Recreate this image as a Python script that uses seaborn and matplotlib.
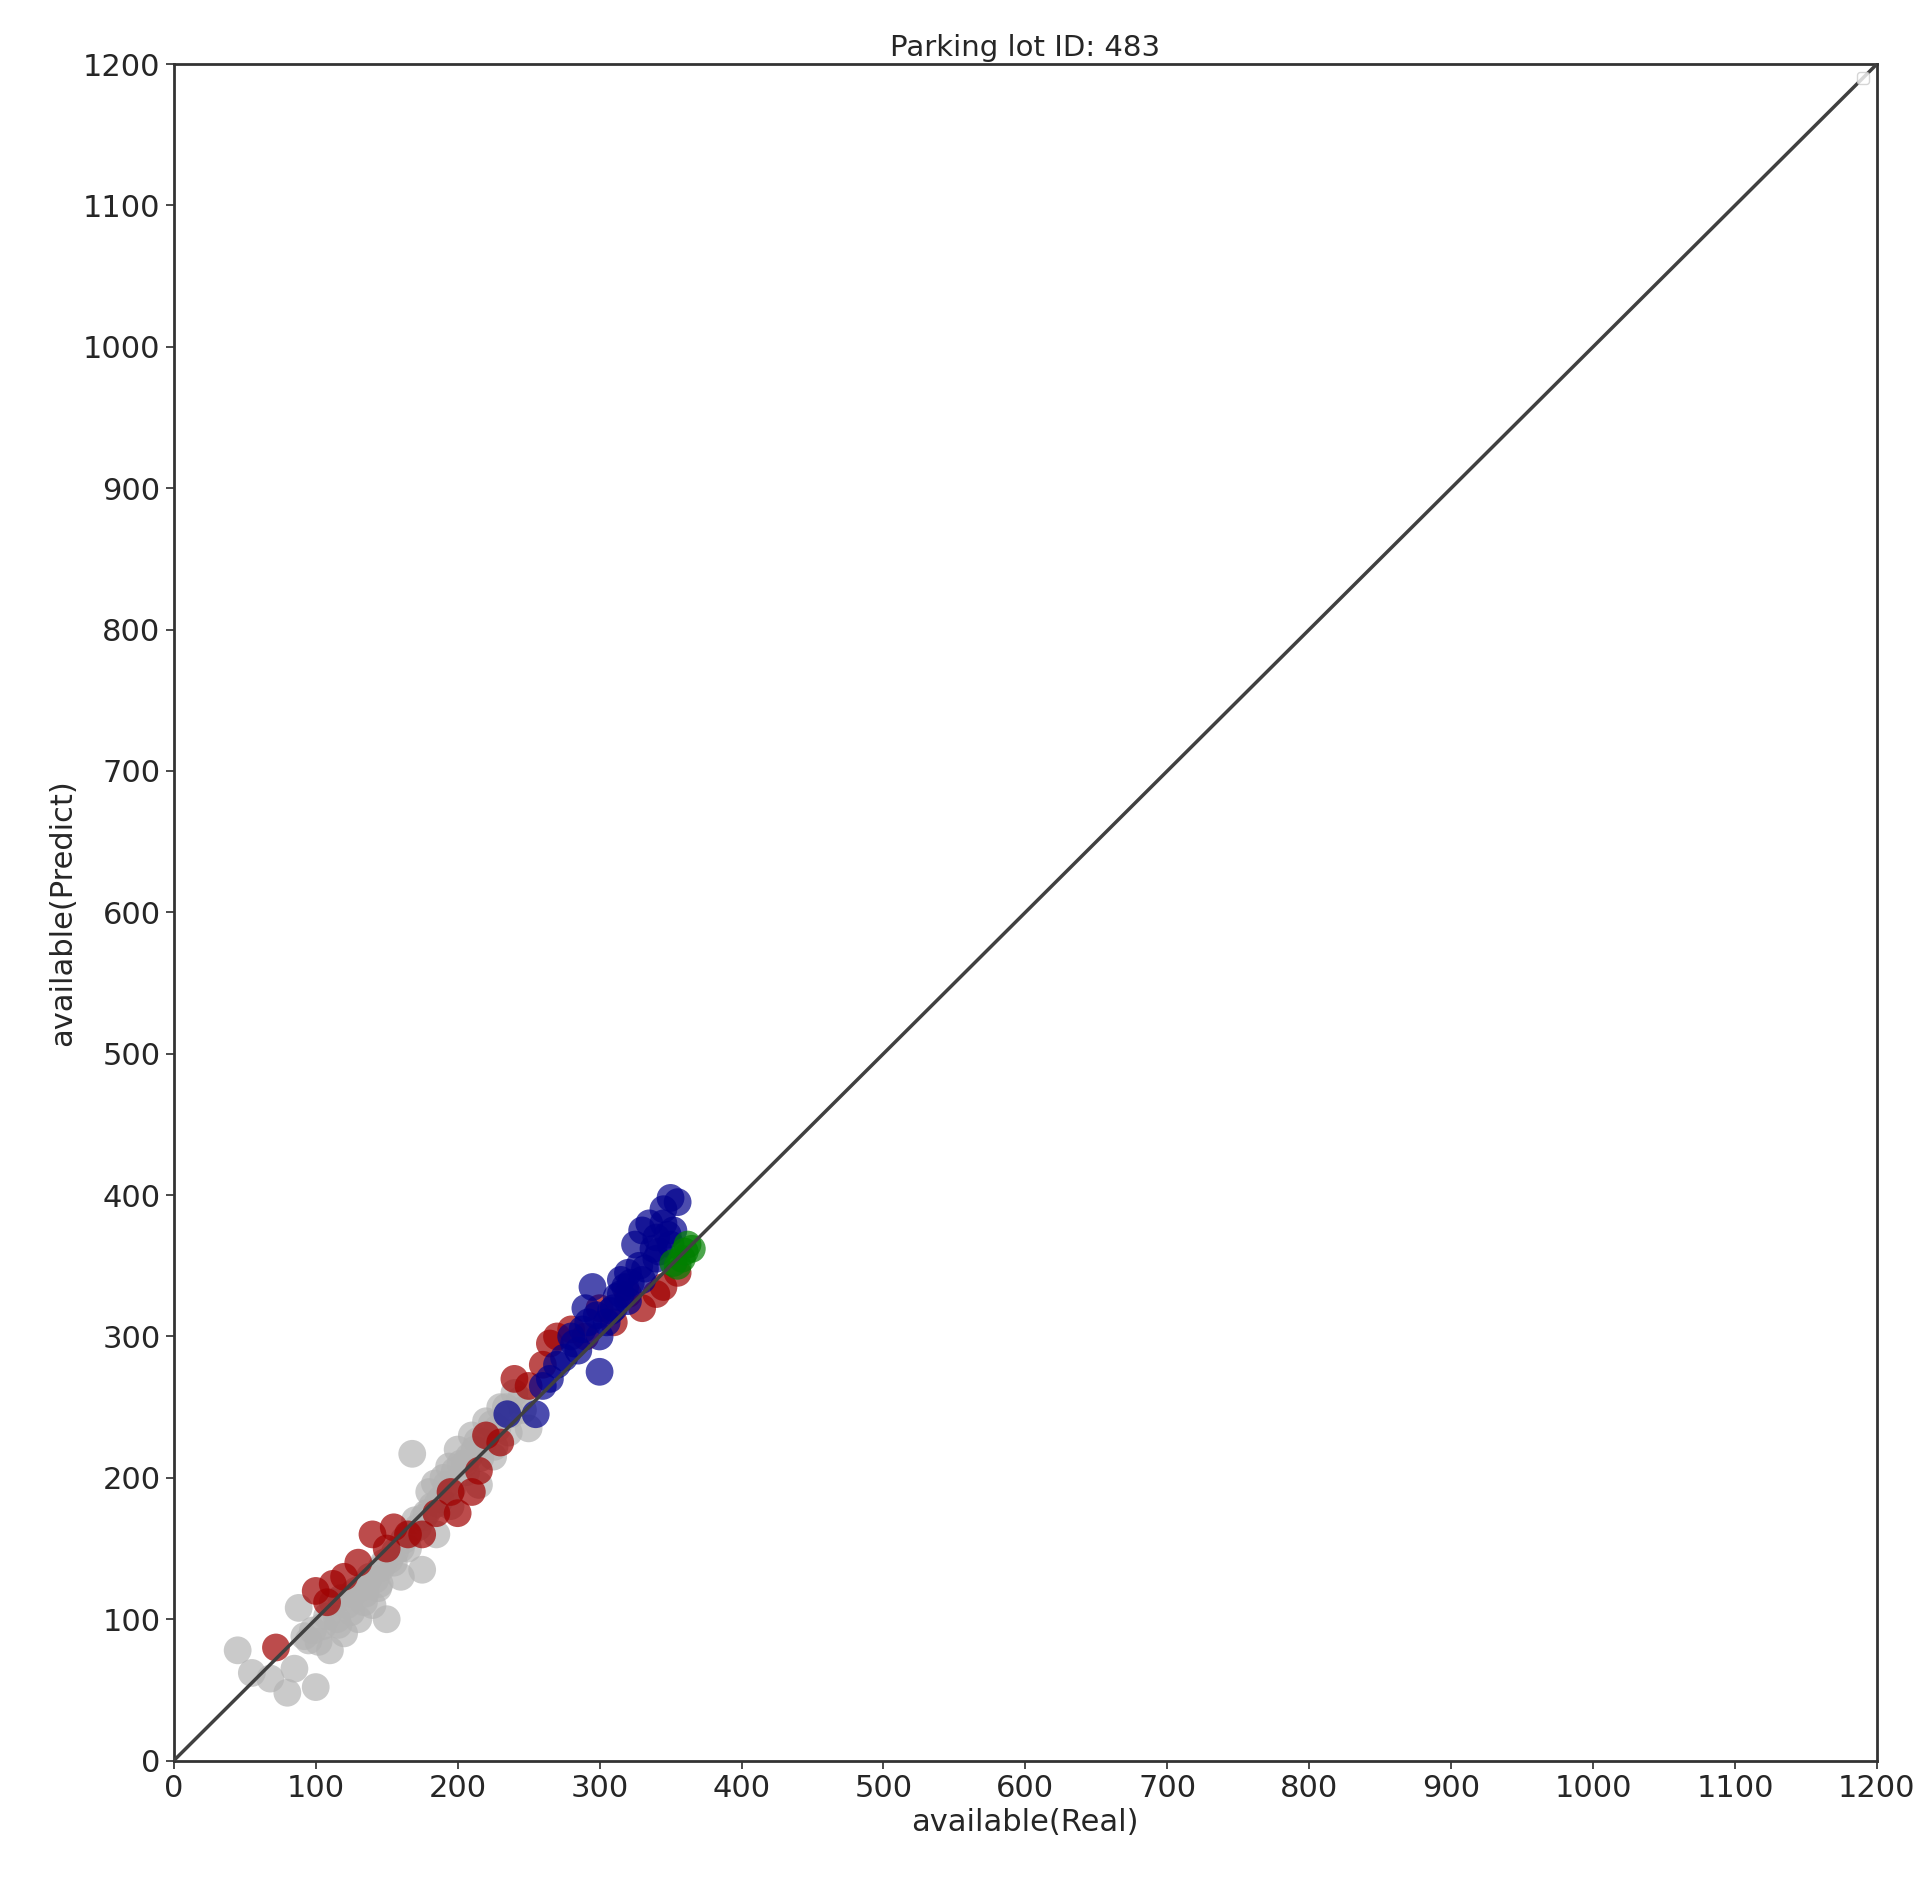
import matplotlib
matplotlib.use("Agg")
import matplotlib.pyplot as plt
import seaborn as sns

gray_x = [45,55,68,80,85,100,88,95,110,120,130,140,150,160,165,175,170,180,185,190,200,210,215,220,230,240,250,225,205,195,
          168,105,115,125,135,145,155,160,178,188,198,208,218,228,238,118,128,138,148,172,182,192,202,212,92,98,108,122,132,142,
          112,126,136,146,156,166,176,186,196,206,216,226,236,246,152,162,184,194,214,224,234,244,134,144,116,102]
gray_y = [78,62,58,48,65,52,108,85,78,90,100,110,100,130,150,135,170,190,160,200,220,230,195,240,250,260,235,215,210,180,
          217,95,100,105,118,125,140,150,175,185,205,215,225,235,245,115,120,130,140,165,180,195,210,220,88,92,102,110,122,128,
          112,118,126,136,148,160,172,182,192,204,214,222,232,248,142,156,196,208,226,238,250,255,112,122,96,84]
red_x = [72,100,112,130,140,155,175,200,210,220,240,260,270,280,310,330,345,355,120,150,185,230,290,320,
         108,165,195,215,250,265,300,340]
red_y = [80,120,125,140,160,165,160,175,190,230,270,280,300,305,310,320,335,345,130,150,175,225,300,330,
         112,160,190,205,265,295,320,330]
blue_x = [235,255,265,280,290,295,300,305,315,320,325,330,335,340,345,350,355,340,330,320,310,350,300,285,275,260,315,345,
          270,288,298,308,318,328,338,348,312,322,332,342,352,282,292]
blue_y = [245,245,270,300,320,335,275,310,330,345,365,375,380,370,390,398,395,355,340,325,320,365,300,290,285,265,340,380,
          280,305,315,318,335,350,362,372,328,338,348,360,375,295,310]
green_x = [355,360,362,358,365,352]
green_y = [350,360,365,355,362,352]

sns.set_theme(style="white")
fig = plt.figure(figsize=(19.31, 18.84), dpi=100)
ax = fig.add_axes([0.09, 0.0655, 0.882, 0.9005])
for xs, ys, c in [(gray_x, gray_y, "#b4b4b4"), (red_x, red_y, "#a00000"),
                  (blue_x, blue_y, "#00008c"), (green_x, green_y, "#008000")]:
    sns.scatterplot(x=xs, y=ys, ax=ax, color=c, s=400, alpha=0.7, edgecolor="none", zorder=2)
ax.plot([0, 1200], [0, 1200], color="#404040", lw=2.5, zorder=3)
ax.set_xlim(0, 1200)
ax.set_ylim(0, 1200)
ticks = list(range(0, 1201, 100))
ax.set_xticks(ticks)
ax.set_yticks(ticks)
ax.tick_params(labelsize=22, length=6, color="#333333", bottom=True, left=True)
for s in ax.spines.values():
    s.set_color("#333333"); s.set_linewidth(2)
ax.set_xlabel("available(Real)", fontsize=22)
ax.set_ylabel("available(Predict)", fontsize=22)
ax.set_title("Parking lot ID: 483", fontsize=21)
ax.legend(handles=[], loc="upper right", frameon=True)
fig.savefig("out.png", dpi=100)
